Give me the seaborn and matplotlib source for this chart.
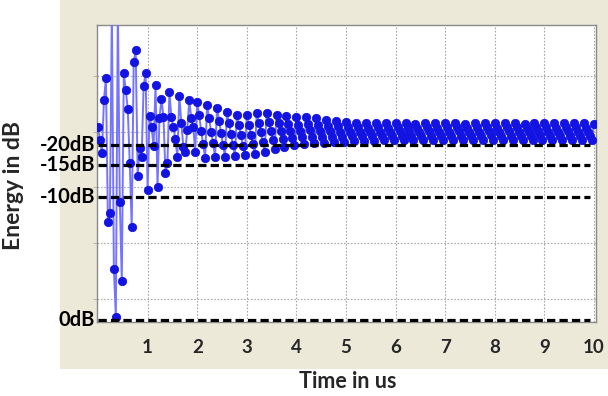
import numpy as np
import matplotlib
matplotlib.use("Agg")
import matplotlib.pyplot as plt
import seaborn as sns
from matplotlib.transforms import blended_transform_factory

# --- Data ---
SAMPLE_STEP_US = 0.04

# ringing at switch-on, 0 - 2 us
energy_start = [
    4.09, 3.85, 3.62, 4.57, 4.96, 2.38, 2.54, 6.18, 1.54, 0.68,
    6.27, 2.74, 1.32, 5.05, 4.75, 4.41, 3.44, 2.29, 5.25, 5.47,
    3.21, 3.71, 3.55, 4.82, 5.05, 2.96, 4.28, 4.09, 3.74, 4.84,
    3.01, 4.25, 4.59, 4.26, 3.26, 3.44, 4.71, 4.26, 4.09, 3.87,
    3.55, 4.64, 4.16, 3.73, 3.64, 4.03, 4.57, 4.25, 4.09, 3.64,
]

# settling, 2 - 10 us (one row per ripple period)
energy_settle = [
    4.53, 4.30, 4.02, 3.78, 3.53,
    4.48, 4.24, 4.00, 3.80, 3.55,
    4.43, 4.20, 3.98, 3.77, 3.55,
    4.35, 4.16, 3.96, 3.76, 3.57,
    4.30, 4.12, 3.94, 3.75, 3.58,
    4.30, 4.13, 3.95, 3.78, 3.60,
    4.34, 4.16, 3.99, 3.82, 3.64,
    4.34, 4.18, 4.01, 3.85, 3.69,
    4.30, 4.15, 4.01, 3.87, 3.73,
    4.28, 4.14, 4.02, 3.89, 3.76,
    4.26, 4.13, 4.02, 3.90, 3.78,
    4.26, 4.14, 4.03, 3.91, 3.80,
    4.25, 4.13, 4.02, 3.91, 3.80,
    4.21, 4.11, 4.01, 3.91, 3.82,
    4.19, 4.10, 4.00, 3.91, 3.82,
    4.17, 4.09, 4.00, 3.92, 3.83,
    4.16, 4.08, 4.00, 3.92, 3.84,
    4.15, 4.07, 3.99, 3.92, 3.84,
    4.16, 4.08, 4.00, 3.93, 3.85,
    4.15, 4.07, 4.00, 3.92, 3.85,
    4.16, 4.08, 4.01, 3.93, 3.85,
    4.15, 4.08, 4.00, 3.92, 3.85,
    4.14, 4.07, 3.99, 3.92, 3.85,
    4.16, 4.08, 4.01, 3.93, 3.86,
    4.15, 4.07, 4.00, 3.93, 3.86,
    4.16, 4.08, 4.00, 3.92, 3.85,
    4.15, 4.08, 4.01, 3.93, 3.86,
    4.14, 4.07, 4.00, 3.93, 3.86,
    4.16, 4.08, 4.00, 3.93, 3.86,
    4.15, 4.08, 4.01, 3.94, 3.86,
    4.15, 4.07, 4.00, 3.93, 3.86,
    4.16, 4.08, 4.01, 3.93, 3.86,
    4.15, 4.08, 4.00, 3.93, 3.86,
    4.14, 4.07, 4.00, 3.93, 3.86,
    4.16, 4.08, 4.01, 3.94, 3.86,
    4.15, 4.08, 4.00, 3.93, 3.86,
    4.15, 4.07, 4.00, 3.93, 3.86,
    4.16, 4.08, 4.01, 3.93, 3.86,
    4.15, 4.08, 4.00, 3.93, 3.86,
    4.15, 4.07, 4.00, 3.93, 3.86,
    4.14,
]

level_names = ["0dB", "-10dB", "-15dB", "-20dB"]
level_values = [0.62, 2.83, 3.40, 3.76]
x_ticks = [1, 2, 3, 4, 5, 6, 7, 8, 9, 10]
grid_y = [1, 2, 3, 4, 5]

# --- Style ---
sns.set_style("white")
plt.rcParams['font.family'] = ['Lato', 'DejaVu Sans']
BEIGE = '#ECE9D8'
LINE_BLUE = '#7474ff'
DOT_BLUE = '#1414e2'

energy = np.array(energy_start + energy_settle)
time_us = np.arange(len(energy)) * SAMPLE_STEP_US

fig = plt.figure(figsize=(6.08, 3.96), dpi=100, facecolor='white')
# beige window frame behind the plot
frame = fig.add_axes([60 / 608, 1 - 369 / 396, 1 - 60 / 608, 369 / 396], zorder=-5)
frame.set_facecolor(BEIGE)
frame.set_xticks([])
frame.set_yticks([])
for sp in frame.spines.values():
    sp.set_visible(False)

ax = fig.add_axes([97 / 608, 1 - 322 / 396, 499 / 608, 297 / 396], zorder=1)
ax.set_facecolor('white')

sns.lineplot(x=time_us, y=energy, ax=ax, sort=False, estimator=None,
             color=LINE_BLUE, lw=1.4, marker='o', markersize=6.0,
             markerfacecolor=DOT_BLUE, markeredgecolor=DOT_BLUE,
             markeredgewidth=0.6, zorder=3)

# reference levels
ax.hlines(level_values, 0, 9.91, colors='black', lw=2.3,
          linestyles=(0, (2.6, 1.3)), zorder=4)
trans = blended_transform_factory(ax.transAxes, ax.transData)
for name, val in zip(level_names, level_values):
    ax.text(-0.004, val, name, transform=trans, ha='right', va='center',
            fontsize=14.5, fontweight='bold', color='black', clip_on=False)

ax.set_xlim(-0.02, 10.04)
ax.set_ylim(0.587, 5.915)
ax.set_xticks(x_ticks)
ax.set_xticklabels([str(v) for v in x_ticks], fontsize=13.5, fontweight='bold')
ax.set_yticks(grid_y)
ax.set_yticklabels([])
ax.tick_params(axis='x', length=0, pad=12)
ax.tick_params(axis='y', length=3, color='#b8b8b8', width=0.8, left=True)
ax.grid(True, color='#a8a8a8', linestyle=(0, (1.5, 1.5)), lw=0.8, zorder=1)
ax.set_axisbelow(True)
for sp in ax.spines.values():
    sp.set_color('#8a8a8a')
    sp.set_linewidth(1.0)
ax.set_xlabel('')
ax.set_ylabel('')

fig.text(14 / 608, 1 - 186 / 396, 'Energy in dB', rotation=90, ha='center',
         va='center', fontsize=16.5, fontweight='bold')
fig.text(348 / 608, 1 - 382 / 396, 'Time in us', ha='center', va='center',
         fontsize=15.5, fontweight='bold')

fig.savefig('out.png', dpi=100, facecolor=fig.get_facecolor())
